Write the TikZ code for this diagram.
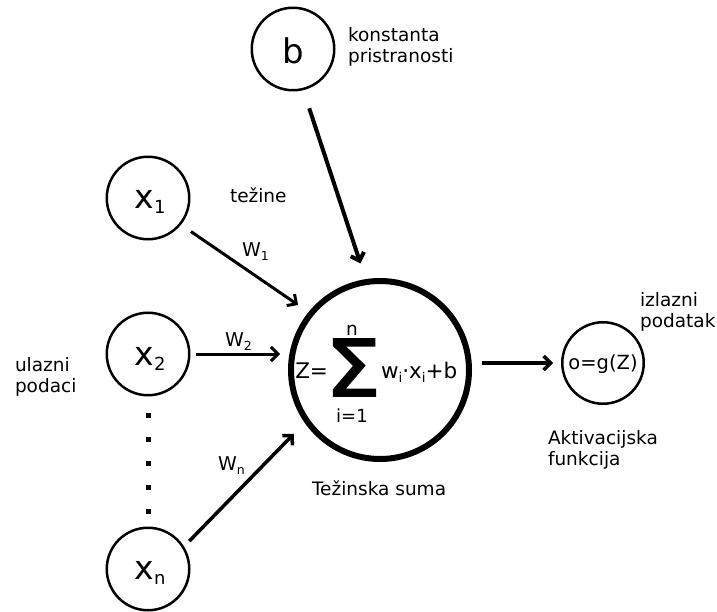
\documentclass[tikz,border=0pt]{standalone}
\usepackage{fontspec}
\setmainfont{DejaVu Sans}
\newfontfamily\sigfont[FakeBold=2.4]{DejaVu Sans}
\usetikzlibrary{arrows.meta}
\newcommand{\fsz}[1]{\fontsize{#1}{#1}\selectfont}
\newcommand{\lsub}[3]{\raisebox{-#2}{\fsz{#3}#1}}
\begin{document}
\begin{tikzpicture}[x=1pt,y=-1pt,
  ring/.style={circle, draw, line width=2.5pt, inner sep=0pt, minimum size=82.5pt},
  big/.style={circle, draw, line width=6pt, inner sep=0pt, minimum size=178pt},
  txt/.style={inner sep=0pt, outer sep=0pt},
  lbl/.style={inner sep=0pt, outer sep=0pt, align=left, font=\fontsize{18.5}{20.5}\selectfont},
  arr/.style={-{Straight Barb[length=7pt,width=14pt]}, line width=3pt},
]
\useasboundingbox[fill=white] (0,0) rectangle (717,612);

% circles
\node[ring] (b) at (293,49) {};
\node[ring] (x1) at (148,198) {};
\node[ring] (x2) at (148,354) {};
\node[ring] (xn) at (148,569) {};
\node[big] (sum) at (380,370) {};
\node[ring, minimum size=81.5pt] (out) at (603,363) {};

% texts in circles
\node[txt, anchor=base] (bt) at (293.5,64) {\fsz{34}b};
\node[txt, anchor=base] (x1t) at (150,209) {\fsz{33}x\lsub{1}{5pt}{18}};
\node[txt, anchor=base] (x2t) at (150,365) {\fsz{33}x\lsub{2}{5pt}{18}};
\node[txt, anchor=base] (xnt) at (150,579) {\fsz{33}x\lsub{n}{5pt}{18}};
\node[txt, anchor=base] (ot) at (603,369) {\fsz{19.5}o=g(Z)};

% formula
\node[txt, anchor=base east] (zeq) at (328,378) {\fsz{21.5}Z=};
\node[txt, anchor=base] (sig) at (353,396) {\scalebox{1.12}[1]{\sigfont\fsz{78}Σ}};
\node[txt, anchor=base] (upper) at (352,335) {\fsz{18.5}n};
\node[txt, anchor=base] (lower) at (352,422) {\fsz{18}i=1};
\node[txt, anchor=base west] (wx) at (381,378) {\fsz{21.5}w\lsub{i}{4pt}{13.5}·x\lsub{i}{4pt}{13.5}+b};

% labels
\node[lbl, anchor=base west] (konst) at (348,62.5) {konstanta\\pristranosti};
\node[lbl, anchor=base west] (tez) at (230,203) {težine};
\node[lbl, anchor=base west] (ulaz) at (15,392) {ulazni\\podaci};
\node[lbl, anchor=base west] (izl) at (640,327) {izlazni\\podatak};
\node[lbl, anchor=base west] (akt) at (548,465) {Aktivacijska\\funkcija};
\node[lbl, anchor=base west] (tsum) at (312,495) {Težinska suma};

\node[txt, anchor=base west] (w1) at (242,257) {\fsz{19}W\lsub{1}{4pt}{12.5}};
\node[txt, anchor=base west] (w2) at (225,346) {\fsz{19}W\lsub{2}{4pt}{12.5}};
\node[txt, anchor=base west] (wn) at (218,470) {\fsz{19}W\lsub{n}{4pt}{12.5}};

% dots
\foreach \yy in {415,439,463,487,511}
  \fill (145.5,\yy-2.5) rectangle ++(5,5);

% connectors
\draw[arr, line width=4pt, shorten <=19pt, shorten >=16.5pt] (b.-76) -- (sum.99.5);
\draw[arr, shorten <=12pt, shorten >=12.6pt] (x1.-39.8) -- (sum.141.6);
\draw[arr, shorten <=5.5pt, shorten >=8pt] (x2.east) -- (x2.east -| sum.west);
\draw[arr, line width=3.5pt, shorten <=7.5pt, shorten >=15.4pt] (xn.32.7) -- (sum.215.9);
\draw[arr, line width=3.5pt, shorten <=10pt, shorten >=8pt] (sum.east |- out.west) -- (out.west);
\end{tikzpicture}
\end{document}
